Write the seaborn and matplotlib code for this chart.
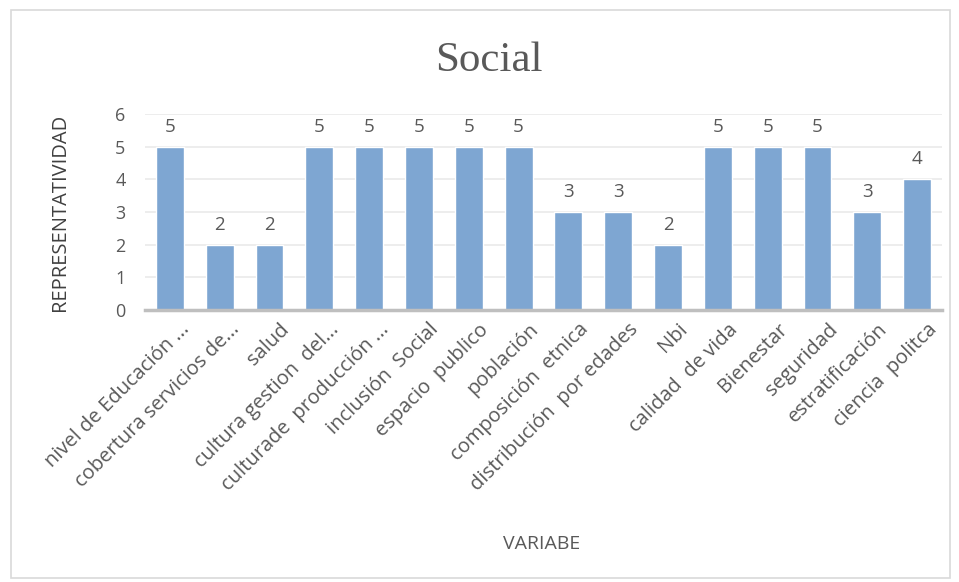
import pandas as pd
import numpy as np
import matplotlib
matplotlib.use('Agg')
import matplotlib.pyplot as plt
import matplotlib.transforms as mtransforms
import seaborn as sns
from matplotlib.patches import Rectangle

# data
variables = ['nivel de Educación ...', 'cobertura servicios de...', 'salud',
             'cultura gestion  del...', 'culturade  producción ...', 'inclusión  Social',
             'espacio  publico', 'población', 'composición  etnica',
             'distribución  por edades', 'Nbi', 'calidad  de vida', 'Bienestar',
             'seguridad', 'estratificación', 'ciencia  politca']
valores = [5, 2, 2, 5, 5, 5, 5, 5, 3, 3, 2, 5, 5, 5, 3, 4]

df = pd.DataFrame({'variable': variables, 'valor': valores})

bar_color = '#7EA6D2'
text_gray = '#595959'

sns.set_style('white')
plt.rcParams['font.family'] = ['Open Sans', 'DejaVu Sans']

fig = plt.figure(figsize=(9.59, 5.82), dpi=100)
ax = fig.add_axes([0.1512, 0.4674, 0.8311, 0.3367])

sns.barplot(data=df, x='variable', y='valor', color=bar_color, width=0.56,
            saturation=1, ax=ax, zorder=3)

ax.set_ylim(0, 6)
ax.set_xlim(-0.5, len(variables) - 0.5)
ax.set_yticks(range(0, 7))
ax.yaxis.grid(True, color='#E8E8E8', linewidth=1.1, zorder=0)
ax.set_axisbelow(True)
sns.despine(ax=ax, left=True, top=True, right=True)
ax.spines['bottom'].set_color('#BFBFBF')
ax.spines['bottom'].set_linewidth(2.5)
ax.spines['bottom'].set_zorder(4)

ax.tick_params(axis='y', length=0, labelsize=13, labelcolor=text_gray, pad=14)
ax.tick_params(axis='x', length=0, labelsize=14.5, labelcolor=text_gray, pad=7)
shift = mtransforms.ScaledTranslation(10 / 100, 0, fig.dpi_scale_trans)
for lbl in ax.get_xticklabels():
    lbl.set_rotation(45)
    lbl.set_ha('right')
    lbl.set_rotation_mode('anchor')
    lbl.set_transform(lbl.get_transform() + shift)

for i, v in enumerate(valores):
    ax.annotate(str(v), (i, v), xytext=(0, 8), textcoords='offset points',
                ha='center', va='bottom', fontsize=13.5, color=text_gray)

ax.set_xlabel('VARIABE', fontsize=14, color=text_gray)
ax.xaxis.set_label_coords(0.498, -1.15)
ax.set_ylabel('REPRESENTATIVIDAD', fontsize=14.5, color='#404040')
ax.yaxis.set_label_coords(-0.094, 0.5)

fig.text(0.51, 0.896, 'Social', ha='center', va='center', fontsize=31,
         color=text_gray, family='Liberation Serif')

# chart border
fig.patches.append(Rectangle((0.011, 0.007), 0.98, 0.975, transform=fig.transFigure,
                             fill=False, edgecolor='#D9D9D9', linewidth=1.2))

fig.savefig('out.png', dpi=100)
